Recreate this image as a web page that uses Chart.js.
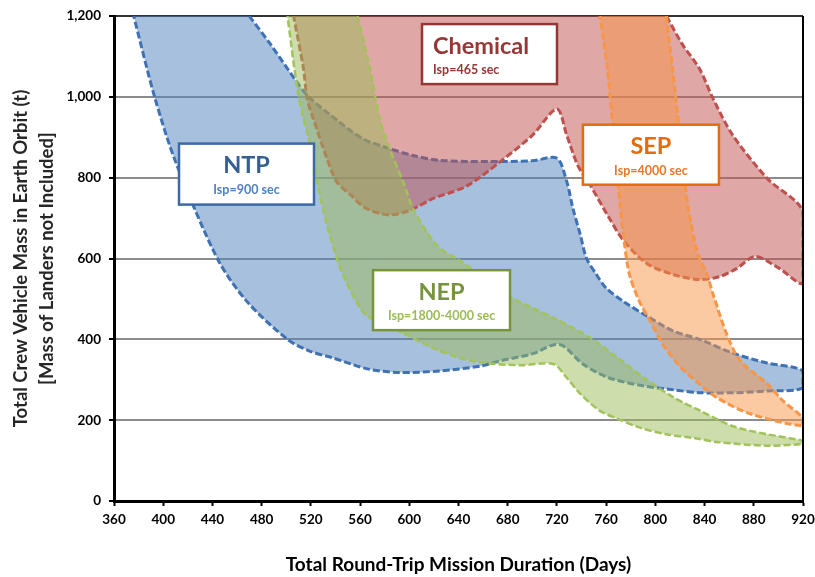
<!DOCTYPE html>
<html>
<head>
<meta charset="utf-8">
<script src="https://cdn.jsdelivr.net/npm/chart.js@4.4.0/dist/chart.umd.min.js"></script>
<style>
  html, body { margin: 0; padding: 0; background: #fff; }
</style>
</head>
<body>
<canvas id="massChart" width="815" height="577"></canvas>
<script>
// Axis ticks
const durationTicks = [360, 400, 440, 480, 520, 560, 600, 640, 680, 720, 760, 800, 840, 880, 920];
const massTicks = [0, 200, 400, 600, 800, 1000, 1200];

// Band edges, [days, tonnes]. "upper" starts at the top of the plot, "lower" runs left to right.
const ntpUpper = [[470,1200],[487,1131],[507,1044],[517,1004],[536,955],[562,897],[584,872],[603,855],[625,843],[665,840],[700,842],[720,848],[728,790],[733,724],[739,659],[744,601],[752,561],[760,527],[774,494],[793,458],[815,420],[836,400],[863,366],[890,342],[920,322]];
const ntpLower = [[376,1200],[393,1000],[410,840],[444,600],[468,494],[501,400],[519,371],[538,354],[566,327],[592,318],[625,322],[658,334],[674,347],[700,364],[722,388],[741,339],[762,305],[790,285],[815,275],[836,268],[864,268],[891,272],[920,280]];

const chemUpper = [[809,1200],[822,1130],[836,1069],[847,995],[863,905],[891,798],[920,716]];
const chemLower = [[506,1200],[514,1070],[517,995],[522,946],[533,848],[541,790],[552,758],[565,724],[584,708],[601,720],[619,748],[647,780],[674,840],[700,905],[720,970],[728,905],[737,830],[747,782],[761,708],[774,645],[793,588],[815,560],[836,548],[852,555],[866,575],[881,605],[900,577],[920,540]];

const nepUpper = [[558,1200],[568,1070],[576,946],[584,872],[595,790],[603,724],[614,667],[625,625],[641,595],[660,555],[682,505],[700,478],[718,452],[747,404],[769,355],[793,300],[815,256],[836,224],[863,185],[891,165],[920,149]];
const nepLower = [[501,1200],[509,1020],[514,946],[518,900],[525,790],[533,684],[544,576],[560,477],[568,453],[592,420],[619,379],[640,355],[660,342],[690,336],[717,339],[728,305],[739,265],[755,223],[769,204],[788,181],[809,165],[831,156],[850,146],[891,137],[920,142]];

const sepUpper = [[809,1200],[814,1069],[820,905],[826,740],[834,617],[842,560],[847,511],[858,413],[869,347],[891,290],[904,247],[920,205]];
const sepLower = [[755,1200],[761,1069],[766,906],[771,741],[775,634],[779,560],[787,494],[796,444],[806,388],[820,333],[834,294],[850,256],[877,216],[920,186]];

const bandNames = ['SEP', 'NEP', 'Chemical', 'NTP'];
const bandIsp = ['Isp=4000 sec', 'Isp=1800-4000 sec', 'Isp=465 sec', 'Isp=900 sec'];

const FONT = 'Lato, "Open Sans", sans-serif';

function polygon(upper, lower) {
    return upper.concat(lower.slice().reverse()).map(([x, y]) => ({ x, y }));
}

function band(i, upper, lower, line, fill, width) {
    return {
        label: bandNames[i],
        data: polygon(upper, lower),
        borderColor: line,
        backgroundColor: fill,
        borderWidth: width,
        borderDash: [7, 3],
        fill: 'shape',
        tension: 0.3,
        pointRadius: 0
    };
}

// white boxes naming each band
const bandLabels = {
    id: 'bandLabels',
    afterDatasetsDraw(chart, args, opts) {
        const { ctx, chartArea, scales: { x, y } } = chart;
        // right-hand frame line
        ctx.save();
        ctx.strokeStyle = '#000';
        ctx.lineWidth = 2;
        ctx.beginPath();
        ctx.moveTo(chartArea.right, chartArea.top);
        ctx.lineTo(chartArea.right, chartArea.bottom);
        ctx.stroke();
        ctx.restore();

        opts.items.forEach(item => {
            const cx = x.getPixelForValue(item.at[0]);
            const cy = y.getPixelForValue(item.at[1]);
            const left = cx - item.w / 2, top = cy - item.h / 2;
            ctx.save();
            ctx.fillStyle = '#fff';
            ctx.fillRect(left, top, item.w, item.h);
            ctx.lineWidth = 2.5;
            ctx.strokeStyle = item.border;
            ctx.strokeRect(left, top, item.w, item.h);
            ctx.textBaseline = 'middle';
            ctx.textAlign = item.leftAlign ? 'left' : 'center';
            const tx = item.leftAlign ? left + 11 : cx;
            ctx.font = `bold 23.5px ${FONT}`;
            ctx.fillStyle = item.color;
            ctx.fillText(bandNames[item.band], tx, top + 22);
            ctx.font = `bold 12.5px ${FONT}`;
            ctx.fillStyle = item.sub;
            ctx.fillText(bandIsp[item.band], tx, top + 46);
            ctx.restore();
        });
    }
};

const ctx = document.getElementById('massChart').getContext('2d');
new Chart(ctx, {
    type: 'line',
    data: {
        datasets: [
            band(0, sepUpper, sepLower, '#F79646', 'rgba(247, 150, 70, 0.5)', 3),
            band(1, nepUpper, nepLower, '#A2C35A', 'rgba(155, 187, 89, 0.5)', 2.5),
            band(2, chemUpper, chemLower, '#C0504D', 'rgba(192, 80, 77, 0.5)', 3),
            band(3, ntpUpper, ntpLower, '#3F72B5', 'rgba(79, 129, 189, 0.5)', 3)
        ]
    },
    options: {
        responsive: false,
        animation: false,
        layout: { padding: { top: 14, right: 0, left: 0, bottom: 0 } },
        plugins: {
            legend: { display: false },
            tooltip: { enabled: false },
            bandLabels: {
                items: [
                    { band: 3, at: [467.7, 809], w: 135, h: 61, border: '#3D6AA6', color: '#376092', sub: '#4F81BD' },
                    { band: 2, at: [665.2, 1106], w: 135, h: 60, border: '#953735', color: '#953735', sub: '#953735', leftAlign: true },
                    { band: 0, at: [796.4, 857], w: 136, h: 60, border: '#E46C0A', color: '#E46C0A', sub: '#E8782A' },
                    { band: 1, at: [626.2, 497], w: 137, h: 60, border: '#77933C', color: '#77933C', sub: '#9BBB59' }
                ]
            }
        },
        scales: {
            x: {
                type: 'linear',
                min: 360,
                max: 920,
                afterBuildTicks: s => { s.ticks = durationTicks.map(v => ({ value: v })); },
                afterFit: s => { s.height = 76; s.paddingRight = 12; },
                ticks: {
                    color: '#000',
                    padding: 6,
                    maxRotation: 0,
                    font: { family: FONT, size: 13.5, weight: 'bold' }
                },
                grid: { drawOnChartArea: false, drawTicks: true, tickLength: 5, tickColor: '#000', tickWidth: 2 },
                border: { color: '#000', width: 3 },
                title: {
                    display: true,
                    text: 'Total Round-Trip Mission Duration (Days)',
                    color: '#000',
                    padding: { top: 0, bottom: 1 },
                    font: { family: FONT, size: 19, weight: 'bold' }
                }
            },
            y: {
                min: 0,
                max: 1200,
                afterBuildTicks: s => { s.ticks = massTicks.map(v => ({ value: v })); },
                afterFit: s => { s.width = 114; },
                ticks: {
                    color: '#000',
                    padding: 8,
                    font: { family: FONT, size: 13.5, weight: 'bold' },
                    callback: v => v.toLocaleString('en-US')
                },
                grid: {
                    color: c => c.tick && c.tick.value === 1200 ? '#333' : '#8C8C8C',
                    lineWidth: 2,
                    tickLength: 5,
                    tickColor: '#000',
                    tickWidth: 2
                },
                border: { color: '#000', width: 3 },
                title: {
                    display: true,
                    text: ['Total Crew Vehicle Mass in Earth Orbit (t)', '[Mass of Landers not Included]'],
                    color: '#262626',
                    padding: { top: 8, bottom: 0 },
                    font: { family: FONT, size: 18.5, weight: 'bold', lineHeight: 1.42 }
                }
            }
        }
    },
    plugins: [bandLabels]
});
</script>
</body>
</html>
